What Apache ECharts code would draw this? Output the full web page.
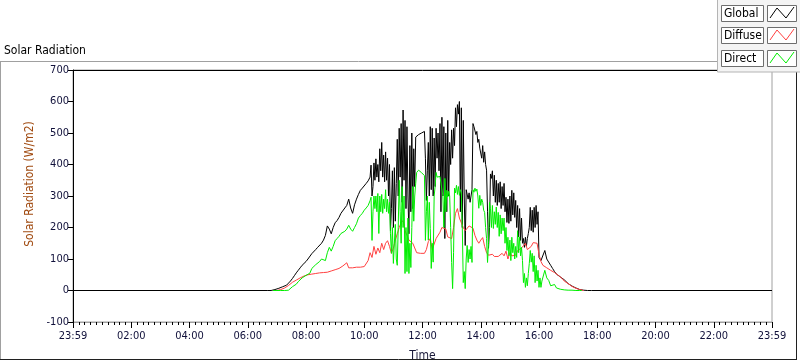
<!DOCTYPE html>
<html>
<head>
<meta charset="utf-8">
<script src="https://cdn.jsdelivr.net/npm/echarts@6/dist/echarts.min.js"></script>
<style>
html,body{margin:0;padding:0;background:#fff;}
#chart{width:800px;height:361px;}
</style>
</head>
<body>
<div id="chart"></div>
<script>
// ---- data (minutes after midnight, W/m2) ----
const seriesNames = ['Global', 'Diffuse', 'Direct'];
const seriesColors = ['#000000', '#FF4040', '#00EE00'];
const dayStart = 0, dayEnd = 1440;      // axis range in minutes
const tickStep = 120;                   // 2 h ticks
const yMin = -100, yMax = 700, yStep = 100;

// Global: 4-min samples from 06:40, 2-min samples 10:14-16:06, 4-min samples from 16:08
const globalMorningStart = 400;
const globalMorning = [
  0,0,0,1,3,5,7,9,12,14,
  17,22,30,38,47,56,64,72,80,86,
  92,100,106,117,122,130,137,142,150,160,
  175,205,195,180,200,215,222,232,245,250,
  262,270,290,262,245,272,290,305,318,325,
  330,340,348,360
];
const globalMiddayStart = 614;
const globalMidday = [
  398,300,330,405,350,418,360,400,345,450,
  380,470,360,430,345,440,350,420,300,400,
  190,260,380,200,390,220,340,480,300,515,
  360,530,280,573,350,540,260,520,300,180,
  460,250,500,260,450,330,487,490,493,495,
  497,498,500,500,503,505,420,286,380,470,
  300,520,320,515,300,484,330,515,420,500,
  380,530,250,550,300,520,165,500,250,540,
  300,470,400,510,420,515,460,580,520,590,
  560,600,250,580,200,540,300,143,320,325,
  290,310,280,300,320,530,520,515,495,505,
  470,480,452,455,420,460,407,440,400,382,
  250,134,200,370,356,380,300,366,280,350,
  270,340,280,345,260,330,270,340,250,296,
  216,290,213,300,220,318,240,310,232,286,
  200,270,170,260,159,230,150,165,137,169,
  140,165,181,200,264,190,255,185,264,200,
  270,210,250,105,100,95,100
];
const globalEveningStart = 968;
const globalEvening = [
  100,127,100,95,80,70,60,52,47,43,
  40,34,28,22,18,14,10,8,5,3,
  2,1,0,0,0,0
];

// Diffuse: 4-min samples from 06:52
const diffuseStart = 412;
const diffuseValues = [
  0,0,0,1,3,5,8,12,16,22,
  26,30,33,36,40,43,46,48,50,52,
  52,54,54,55,56,56,57,57,58,60,
  62,64,66,68,70,74,78,84,88,72,
  70,72,74,74,76,74,74,76,80,95,
  120,105,140,115,135,120,150,130,150,158,
  140,118,135,160,180,200,215,222,190,185,
  160,155,150,135,120,118,118,122,118,130,
  155,165,130,125,165,170,185,200,205,195,
  170,168,165,200,245,260,230,215,200,190,
  195,205,210,198,175,160,150,160,168,140,
  120,112,110,115,108,105,108,112,118,110,
  125,100,120,110,105,112,127,125,135,142,
  150,130,135,140,152,156,150,115,92,80,
  74,72,68,64,60,57,52,48,43,38,
  30,25,22,17,13,10,7,5,3,1,
  0
];

// Direct: 4-min samples from 06:52, 2-min samples 10:14-16:06, 4-min samples from 16:08
const directMorningStart = 412;
const directMorning = [
  0,0,0,0,0,0,0,0,1,4,
  12,16,20,28,34,40,44,48,52,55,
  70,75,82,88,92,100,105,95,120,137,
  125,140,158,165,172,181,180,188,195,207,
  195,188,200,212,230,238,245,255,262,270,
  285
];
const directMiddayStart = 614;
const directMidday = [
  296,159,250,300,260,300,250,308,181,300,
  250,305,245,290,260,320,250,290,245,280,
  180,118,200,86,150,210,100,80,200,350,
  250,150,330,200,300,54,200,60,230,54,
  150,73,200,330,220,300,340,375,380,382,
  378,376,374,372,368,365,159,250,300,160,
  280,197,70,150,90,300,330,375,360,366,
  358,362,356,360,300,200,356,250,318,297,
  315,300,200,89,6,120,325,310,334,305,
  330,302,320,310,200,25,60,6,100,143,
  89,130,100,140,89,320,312,325,315,322,
  300,261,302,270,290,280,255,248,200,165,
  89,150,280,260,200,270,197,250,210,265,
  200,248,172,240,180,230,190,230,150,200,
  127,169,110,160,95,169,120,150,100,140,
  105,190,120,170,110,137,95,25,54,10,
  40,15,54,86,127,90,118,60,110,25,
  80,30,64,10,40,10,30
];
const directEveningStart = 968;
const directEvening = [
  30,64,40,32,15,10,19,8,6,4,
  3,2,2,1,1,1,0,0,0,0,
  0
];

// ---- build [time, value] pairs ----
function seg(start, step, values) {
  return values.map((v, i) => [start + i * step, v]);
}
const globalData = [[dayStart, 0]].concat(
  seg(globalMorningStart, 4, globalMorning),
  seg(globalMiddayStart, 2, globalMidday),
  seg(globalEveningStart, 4, globalEvening),
  [[dayEnd, 0]]);
const diffuseData = seg(diffuseStart, 4, diffuseValues);
const directData = [].concat(
  seg(directMorningStart, 4, directMorning),
  seg(directMiddayStart, 2, directMidday),
  seg(directEveningStart, 4, directEvening));

const FONT = "'DejaVu Sans Condensed', 'DejaVu Sans', sans-serif";

function fmtTime(v) {
  if (v <= dayStart || v >= dayEnd) return '23:59';
  const h = Math.floor(v / 60), m = Math.round(v % 60);
  return String(h).padStart(2, '0') + ':' + String(m).padStart(2, '0');
}

const chart = echarts.init(document.getElementById('chart'), null, {renderer: 'canvas'});

function legendRow(i, y0) {
  const col = seriesColors[i];
  return [
    {type: 'rect', z: 101, shape: {x: 721.5, y: y0 + 0.5, width: 42, height: 16},
     style: {fill: '#FFFFFF', stroke: '#6E6E6E', lineWidth: 1}},
    {type: 'text', z: 102, style: {x: 724, y: y0 + 9, text: seriesNames[i], fill: '#000',
     font: '12px ' + FONT, textVerticalAlign: 'middle', verticalAlign: 'middle'}},
    {type: 'rect', z: 101, shape: {x: 767.5, y: y0 + 0.5, width: 29, height: 16},
     style: {fill: '#FFFFFF', stroke: '#6E6E6E', lineWidth: 1}},
    {type: 'polyline', z: 102, shape: {points: [[770, y0 + 13], [777, y0 + 3], [786, y0 + 13], [794, y0 + 2]]},
     style: {stroke: col, lineWidth: 1, fill: null}}
  ];
}

const option = {
  animation: false,
  backgroundColor: '#FFFFFF',
  grid: {left: 73, right: 28, top: 70, bottom: 39, show: true, containLabel: false,
         outerBoundsMode: 'none',
         backgroundColor: '#FFFFFF', borderColor: '#A0A0A0', borderWidth: 1},
  xAxis: [{
    type: 'value', min: dayStart, max: dayEnd, interval: tickStep,
    name: 'Time', nameLocation: 'middle', nameGap: 28,
    nameTextStyle: {color: '#1A1A3A', fontSize: 12, fontFamily: FONT},
    axisLine: {show: true, onZero: false, lineStyle: {color: '#A0A0A0', width: 1}},
    axisTick: {show: true, length: 6, inside: false, lineStyle: {color: '#000', width: 1}},
    minorTick: {show: true, splitNumber: 10, length: 3, lineStyle: {color: '#000', width: 1}},
    splitLine: {show: false},
    axisLabel: {formatter: fmtTime, color: '#10103A', fontSize: 11, fontFamily: FONT, margin: 9,
                showMinLabel: true, showMaxLabel: true}
  }, {
    type: 'value', position: 'top', min: dayStart, max: dayEnd,
    axisLine: {show: true, onZero: false, lineStyle: {color: '#000', width: 1}},
    axisTick: {show: false}, axisLabel: {show: false}, splitLine: {show: false}
  }],
  yAxis: {
    type: 'value', min: yMin, max: yMax, interval: yStep,
    name: 'Solar Radiation (W/m2)', nameLocation: 'middle', nameGap: 36, nameRotate: 90,
    nameTextStyle: {color: '#A04A10', fontSize: 12, fontFamily: FONT, padding: [0, 0, 0, 24]},
    axisLine: {show: true, onZero: false, lineStyle: {color: '#000', width: 1}},
    axisTick: {show: true, length: 5, lineStyle: {color: '#000', width: 1}},
    splitLine: {show: false},
    axisLabel: {color: '#10103A', fontSize: 11, fontFamily: FONT, margin: 4}
  },
  series: [
    {name: seriesNames[0], type: 'line', data: globalData, showSymbol: false, symbol: 'none',
     lineStyle: {color: seriesColors[0], width: 1}, z: 2},
    {name: seriesNames[1], type: 'line', data: diffuseData, showSymbol: false, symbol: 'none',
     lineStyle: {color: seriesColors[1], width: 1}, z: 3},
    {name: seriesNames[2], type: 'line', data: directData, showSymbol: false, symbol: 'none',
     lineStyle: {color: seriesColors[2], width: 1}, z: 4}
  ],
  graphic: [
    {type: 'text', z: 100, style: {x: 4, y: 51, text: 'Solar Radiation', fill: '#000',
      font: '12px ' + FONT, textVerticalAlign: 'middle', verticalAlign: 'middle'}},
    {type: 'line', z: 100, shape: {x1: 0, y1: 61.5, x2: 717, y2: 61.5}, style: {stroke: '#A0A0A0', lineWidth: 1}},
    {type: 'line', z: 100, shape: {x1: 0.5, y1: 61.5, x2: 0.5, y2: 360}, style: {stroke: '#A0A0A0', lineWidth: 1}},
    {type: 'line', z: 100, shape: {x1: 0, y1: 359.5, x2: 797, y2: 359.5}, style: {stroke: '#202020', lineWidth: 1}},
    {type: 'line', z: 100, shape: {x1: 796.5, y1: 72, x2: 796.5, y2: 360}, style: {stroke: '#202020', lineWidth: 1}},
    {type: 'rect', z: 100, shape: {x: 717.5, y: -1, width: 84, height: 73},
     style: {fill: '#F4F4F4', stroke: '#B4B4B4', lineWidth: 1}}
  ].concat(legendRow(0, 5), legendRow(1, 27), legendRow(2, 50))
};

chart.setOption(option);
</script>
</body>
</html>
